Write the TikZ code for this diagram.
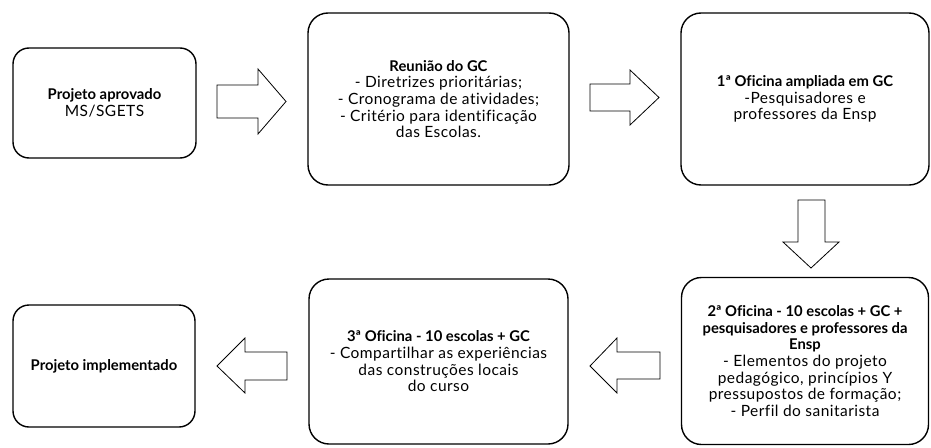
\documentclass[tikz,border=0pt]{standalone}
\usepackage{fontspec}
\setmainfont[Ligatures=NoCommon]{Lato}
\newfontfamily\regf[Ligatures=NoCommon,LetterSpace=3]{Lato}
\newcommand{\B}[1]{{\normalfont\bfseries\fontsize{14.8}{16.7}\selectfont #1}}
\begin{document}
\begin{tikzpicture}[x=1pt,y=-1pt,
  box/.style={draw, line width=1.4pt, rounded corners=20pt, align=center, inner sep=1pt,
    font=\regf\fontsize{15.5}{16.7}\selectfont},
  blockarrow/.style={draw, line width=0.8pt, fill=white}]
\useasboundingbox (0,0) rectangle (931,447);
\node[box, minimum width=183pt, minimum height=110pt, rounded corners=16pt] (b1) at (104.5,103)
  {\B{Projeto aprovado}\\MS/SGETS};
\node[box, minimum width=261pt, minimum height=172pt] (b2) at (438.5,99)
  {\B{Reunião do GC}\\- Diretrizes prioritárias;\\- Cronograma de atividades;\\- Critério para identificação\\das Escolas.};
\node[box, minimum width=248pt, minimum height=172pt] (b3) at (805,99)
  {\B{1ª Oficina ampliada em GC}\\-Pesquisadores e\\professores da Ensp};
\node[box, minimum width=247pt, minimum height=167pt] (b4) at (805,361)
  {\B{2ª Oficina - 10 escolas + GC +}\\\B{pesquisadores e professores da}\\\B{Ensp}\\- Elementos do projeto\\pedagógico, princípios Y\\pressupostos de formação;\\- Perfil do sanitarista};
\node[box, minimum width=259pt, minimum height=165pt] (b5) at (438.5,361.5)
  {\B{3ª Oficina - 10 escolas + GC}\\- Compartilhar as experiências\\das construções locais\\do curso};
\node[box, minimum width=182pt, minimum height=122pt, rounded corners=16pt] (b6) at (104,366)
  {\B{Projeto implementado}};
% block arrows
\draw[blockarrow] (217,85) -- (258,85) -- (258,69) -- (286,101.5) -- (258,134) -- (258,118) -- (217,118) -- cycle;
\draw[blockarrow] (590,84) -- (630,84) -- (630,70) -- (659,97.5) -- (630,125) -- (630,111) -- (590,111) -- cycle;
\draw[blockarrow] (798,200) -- (825,200) -- (825,242) -- (839,242) -- (811,268) -- (783,242) -- (798,242) -- cycle;
\draw[blockarrow] (660,352) -- (617,352) -- (617,338) -- (590,366) -- (617,393) -- (617,379) -- (660,379) -- cycle;
\draw[blockarrow] (287,352) -- (245,352) -- (245,338) -- (217,366) -- (245,393) -- (245,380) -- (287,380) -- cycle;
\end{tikzpicture}
\end{document}
